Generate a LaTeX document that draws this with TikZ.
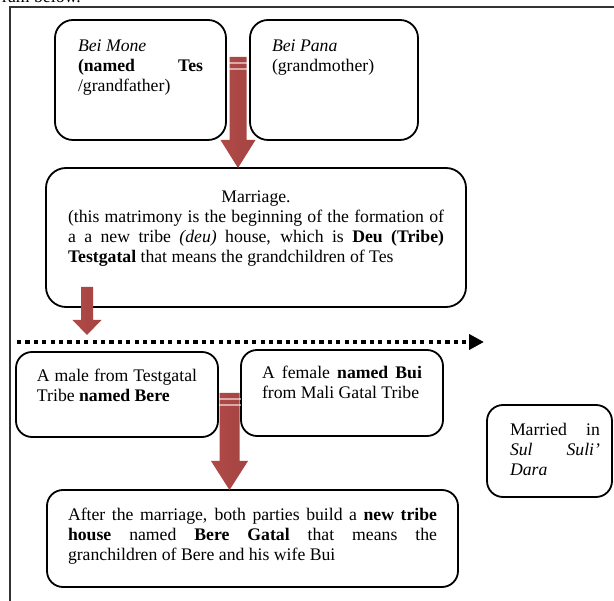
\documentclass[tikz,border=0pt]{standalone}
\usepackage{fontspec}
\setmainfont{Liberation Serif}
\usetikzlibrary{calc}
\usetikzlibrary{arrows.meta}
\definecolor{arrowred}{RGB}{192,80,77}
\definecolor{arrowlight}{RGB}{228,150,148}
\tolerance=10000
\hyphenpenalty=10000
\newcommand{\boxtext}[3]{\parbox[t][#1][t]{#2}{\strut #3}}
\tikzset{
  box/.style={draw, line width=1.8pt, rounded corners=16pt, anchor=north west, outer sep=0pt, font=\fontsize{17.7}{20.3}\selectfont},
  arrowfill/.style={left color=arrowred!92!black, middle color=arrowlight, right color=arrowred!85!black},
  dotline/.style={line width=4.2pt, dash pattern=on 4.2pt off 4.2pt, -{Triangle[length=15pt,width=15pt]}}
}
\begin{document}
\begin{tikzpicture}[x=1pt, y=-1pt]
\newcommand{\bigarrow}[5]{\begin{scope}[shift={(#1)}]
\shade[arrowfill] (-#3,-#2) -- (#3,-#2) -- (#3,-#5) -- (#4,-#5) -- (0,0) -- (-#4,-#5) -- (-#3,-#5) -- cycle;
\end{scope}}
\newcommand{\stripes}[3]{\begin{scope}[shift={(#1)}]
\draw[white, opacity=.55, line width=1.2pt] (-#3-1,6-#2) -- (#3+1,6-#2) (-#3-1,12-#2) -- (#3+1,12-#2);
\end{scope}}
\useasboundingbox (0,0) rectangle (614,601);
\draw[line width=1.7pt, black!80] (10,601) -- (10,7) -- (614,7);
\node[anchor=base west, inner sep=0pt, font=\fontsize{17.7}{20.3}\selectfont] (caption) at (2,3) {ram below.};
% grandparents
\node[box, rounded corners=18pt, inner xsep=23pt, inner ysep=16.8pt] (mone) at (55,20) {\boxtext{86.4pt}{125pt}{\textit{Bei Mone}\\ \textbf{(named\hfill Tes}\\ /grandfather)}};
\node[box, rounded corners=18pt, inner xsep=22pt, inner ysep=16.8pt] (pana) at (250,20) {\boxtext{86.4pt}{124pt}{\textit{Bei Pana}\\ (grandmother)}};
\node[box, rounded corners=20pt, inner xsep=22pt, inner ysep=19.8pt] (marriage) at (46,168) {\boxtext{99.4pt}{376pt}{{\centering Marriage.\par}(this matrimony is the beginning of the formation of\linebreak a a new tribe \textit{(deu)} house, which is \textbf{Deu (Tribe)}\linebreak \textbf{Testgatal} that means the grandchildren of Tes}};
% next generation
\node[box, inner xsep=21pt, inner ysep=14.8pt] (male) at (16,352) {\boxtext{55.4pt}{160pt}{A male from Testgatal\linebreak Tribe \textbf{named Bere}}};
\node[box, inner xsep=21pt, inner ysep=13.8pt] (female) at (241,350) {\boxtext{58.4pt}{160pt}{A female \textbf{named Bui}\linebreak from Mali Gatal Tribe}};
\node[box, inner xsep=12pt, inner ysep=15.8pt] (married) at (487,405) {\boxtext{60.4pt}{101pt}{\leftskip=11pt Married\hfill in\\ \textit{Sul\hfill Suli'}\\ \textit{Dara}}};
\node[box, inner xsep=21pt, inner ysep=15.8pt] (newhouse) at (47,490) {\boxtext{65.4pt}{369pt}{After the marriage, both parties build a \textbf{new tribe}\linebreak \textbf{house} named \textbf{Bere Gatal} that means the\linebreak granchildren of Bere and his wife Bui}};
% arrows
\coordinate (midA) at ($(mone.east)!0.5!(pana.west)$);
\coordinate (tipA) at (midA |- marriage.north);
\coordinate (midC) at ($(male.east)!0.5!(female.west)$);
\coordinate (tipC) at (midC |- newhouse.north);
\coordinate (tipB) at (87,335);
\coordinate (lineL) at (17,342);
\coordinate (lineR) at (484,342);
\draw[dotline] (lineL) -- (lineR);
\bigarrow{tipA}{111}{8.5}{17.5}{28}
\stripes{tipA}{111}{8.5}
\bigarrow{tipB}{48}{6}{14.5}{15}
\bigarrow{tipC}{97}{10}{18.5}{29}
\stripes{tipC}{97}{10}
\end{tikzpicture}
\end{document}
